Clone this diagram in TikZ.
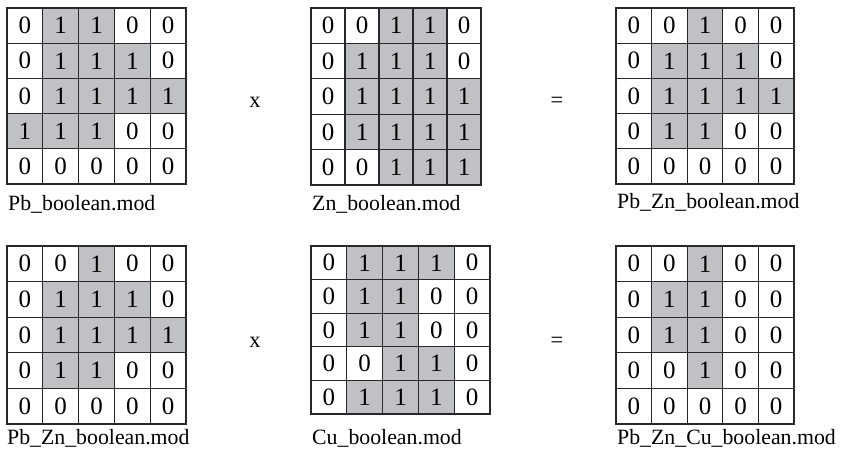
\documentclass[tikz,border=0pt]{standalone}
\usepackage{fontspec}
\setmainfont{Liberation Serif}
\definecolor{cellgray}{RGB}{192,193,197}
\definecolor{gridline}{RGB}{40,40,40}
\tikzset{
  cell/.style={draw=gridline, line width=1.2pt, inner sep=0pt, anchor=center,
    font=\fontsize{25}{25}\selectfont},
  cell0/.style={fill=white},
  cell1/.style={fill=cellgray},
  lbl/.style={anchor=base west, inner sep=0pt, font=\fontsize{21.8}{21.8}\selectfont},
  op/.style={anchor=base, inner sep=0pt, font=\fontsize{22.5}{22.5}\selectfont},
}
% #1 name, #2 left, #3 top, #4 cell width, #5 cell height, #6 rows of 0/1 values
\newcommand{\boolgrid}[6]{%
  \foreach \rowvals [count=\r] in {#6} {
    \foreach \v [count=\c] in \rowvals {
      \node[cell, cell\v, minimum width=#4pt, minimum height=#5pt]
        (#1-\r-\c) at ({#2+(\c-0.5)*#4}, {-(#3+(\r-0.5)*#5)}) {\v};
    }
  }
}
\begin{document}
\begin{tikzpicture}[x=1pt, y=1pt]
\useasboundingbox (0,0) rectangle (842,-452);

% top row: Pb x Zn = Pb_Zn
\boolgrid{pb}{7}{8}{35.8}{35.2}{{0,1,1,0,0},{0,1,1,1,0},{0,1,1,1,1},{1,1,1,0,0},{0,0,0,0,0}}
\boolgrid{zn}{311}{8}{34}{35.4}{{0,0,1,1,0},{0,1,1,1,0},{0,1,1,1,1},{0,1,1,1,1},{0,0,1,1,1}}
\boolgrid{pbzn}{616}{8}{35.6}{35.2}{{0,0,1,0,0},{0,1,1,1,0},{0,1,1,1,1},{0,1,1,0,0},{0,0,0,0,0}}
\node[lbl] (pb-label) at (8,-210.5) {Pb\_boolean.mod};
\node[lbl] (zn-label) at (312,-210.5) {Zn\_boolean.mod};
\node[lbl] (pbzn-label) at (617,-208.5) {Pb\_Zn\_boolean.mod};
\node[op] (times1) at (255,-107) {x};
\node[op] (eq1) at (557,-107) {=};

% bottom row: Pb_Zn x Cu = Pb_Zn_Cu
\boolgrid{pbznb}{7}{246}{35.8}{35.6}{{0,0,1,0,0},{0,1,1,1,0},{0,1,1,1,1},{0,1,1,0,0},{0,0,0,0,0}}
\boolgrid{cu}{311}{246}{35.8}{33.6}{{0,1,1,1,0},{0,1,1,0,0},{0,1,1,0,0},{0,0,1,1,0},{0,1,1,1,0}}
\boolgrid{pbzncu}{616}{246}{35.6}{35.6}{{0,0,1,0,0},{0,1,1,0,0},{0,1,1,0,0},{0,0,1,0,0},{0,0,0,0,0}}
\node[lbl] (pbznb-label) at (7,-444) {Pb\_Zn\_boolean.mod};
\node[lbl] (cu-label) at (312,-444) {Cu\_boolean.mod};
\node[lbl] (pbzncu-label) at (617,-444) {Pb\_Zn\_Cu\_boolean.mod};
\node[op] (times2) at (255,-347) {x};
\node[op] (eq2) at (557,-347) {=};
\end{tikzpicture}
\end{document}
